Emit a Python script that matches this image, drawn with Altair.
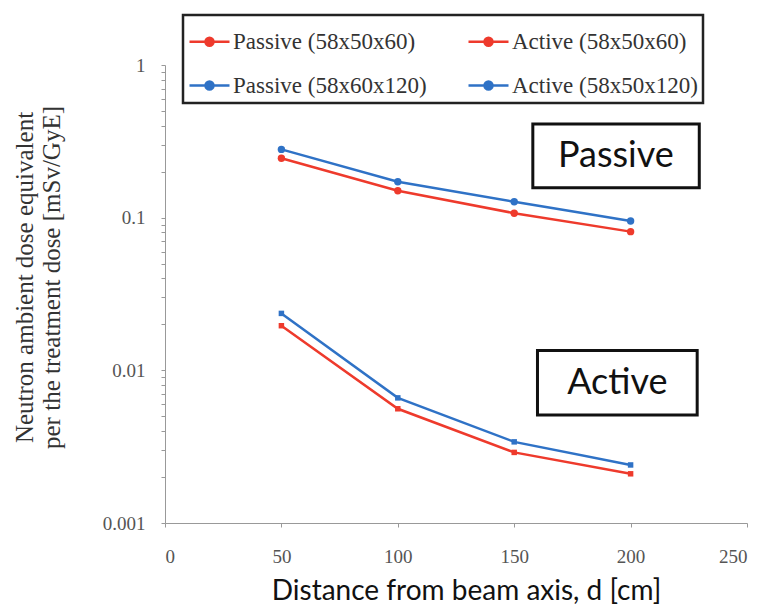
import altair as alt
import pandas as pd

# ---- data ----
distance = [50, 100, 150, 200]
series_names = ["Passive (58x50x60)", "Passive (58x60x120)",
                "Active (58x50x60)", "Active (58x50x120)"]
series_modes = ["Passive", "Passive", "Active", "Active"]
passive_small = [0.245, 0.150, 0.107, 0.081]
passive_large = [0.280, 0.172, 0.127, 0.095]
active_small = [0.0196, 0.0056, 0.0029, 0.0021]
active_large = [0.0236, 0.0066, 0.0034, 0.0024]
series_values = [passive_small, passive_large, active_small, active_large]
series_colors = ["#ee3a2c", "#2f72c6", "#ee3a2c", "#2f72c6"]

y_ticks = [m * k for m in [0.001, 0.01, 0.1] for k in range(1, 10)] + [1]
x_ticks = [0, 50, 100, 150, 200, 250]

# annotation boxes (data coordinates)
box_labels = ["Passive", "Active"]
box_x = [158, 160]
box_x2 = [229.5, 228.6]
box_y = [0.41, 0.0135]
box_y2 = [0.157, 0.0051]
box_tx = [193.7, 194.3]
box_ty = [0.254, 0.0082]

rows = []
for name, mode, vals in zip(series_names, series_modes, series_values):
    for d, v in zip(distance, vals):
        rows.append({"series": name, "mode": mode, "d": d, "v": v})
df = pd.DataFrame(rows)

boxes = pd.DataFrame({"label": box_labels, "x": box_x, "x2": box_x2,
                      "y": box_y, "y2": box_y2, "tx": box_tx, "ty": box_ty})

label_expr = ("datum.value == 1 ? '1' : datum.value == 0.1 ? '0.1' : "
              "datum.value == 0.01 ? '0.01' : datum.value == 0.001 ? '0.001' : ''")

xscale = alt.Scale(domain=[0, 250], nice=False, zero=False)
yscale = alt.Scale(type="log", domain=[0.001, 1], nice=False)

x_enc = alt.X("d:Q", scale=xscale,
              axis=alt.Axis(values=x_ticks, title="Distance from beam axis, d [cm]",
                            grid=False, labelFont="Liberation Serif", labelFontSize=19,
                            labelColor="#555555", labelPadding=20, tickSize=4,
                            tickColor="#999999", domainColor="#999999",
                            titleFont="Lato", titleFontSize=28, titleFontWeight="normal",
                            titleColor="#111111", titlePadding=11, titleX=301))
y_enc = alt.Y("v:Q", scale=yscale,
              axis=alt.Axis(values=y_ticks, labelExpr=label_expr, labelOverlap=False,
                            title=["Neutron ambient dose equivalent",
                                   "per the treatment dose [mSv/GyE]"],
                            grid=False, labelFont="Liberation Serif", labelFontSize=19,
                            labelColor="#555555", labelPadding=16, tickSize=4,
                            tickColor="#999999", domainColor="#999999",
                            titleFont="Liberation Serif", titleFontSize=25,
                            titleFontWeight="normal", titleColor="#333333",
                            titlePadding=38, titleLineHeight=27, titleY=212))

color_scale = alt.Scale(domain=series_names, range=series_colors)

legend = alt.Legend(title=None, orient="none", legendX=18, legendY=-50,
                    columns=2, columnPadding=36, rowPadding=10, padding=5,
                    symbolType="M-1,0H1M-0.2,0A0.2,0.2 0 1,0 0.2,0A0.2,0.2 0 1,0 -0.2,0Z",
                    symbolSize=1600, symbolStrokeWidth=2.5,
                    labelFont="Liberation Serif", labelFontSize=23,
                    labelColor="#333333", labelOffset=2, labelLimit=300,
                    strokeColor="#222222", fillColor="white")

lines = alt.Chart(df).mark_line(strokeWidth=2.5).encode(
    x=x_enc, y=y_enc,
    color=alt.Color("series:N", scale=color_scale, legend=legend),
    detail="series:N",
)

points = alt.Chart(df).mark_point(filled=True, opacity=1).encode(
    x="d:Q", y="v:Q",
    color=alt.Color("series:N", scale=color_scale, legend=None),
    shape=alt.Shape("mode:N", scale=alt.Scale(domain=["Passive", "Active"],
                                              range=["circle", "square"]), legend=None),
    size=alt.Size("mode:N", scale=alt.Scale(domain=["Passive", "Active"],
                                            range=[55, 30]), legend=None),
)

rects = alt.Chart(boxes).mark_rect(fill="white", stroke="#111111", strokeWidth=3).encode(
    x="x:Q", x2="x2", y="y:Q", y2="y2")

texts = alt.Chart(boxes).mark_text(font="Lato", fontSize=36, color="#111111").encode(
    x="tx:Q", y="ty:Q", text="label:N")

chart = alt.layer(rects, texts, lines, points).properties(
    width=582, height=458,
    autosize=alt.AutoSizeParams(type="none"),
    padding={"left": 157, "top": 57, "right": 16, "bottom": 81},
).configure_view(strokeWidth=0).configure_legend(strokeWidth=2.5)

chart.save("out.html", embed_options={"renderer": "svg", "actions": False})
